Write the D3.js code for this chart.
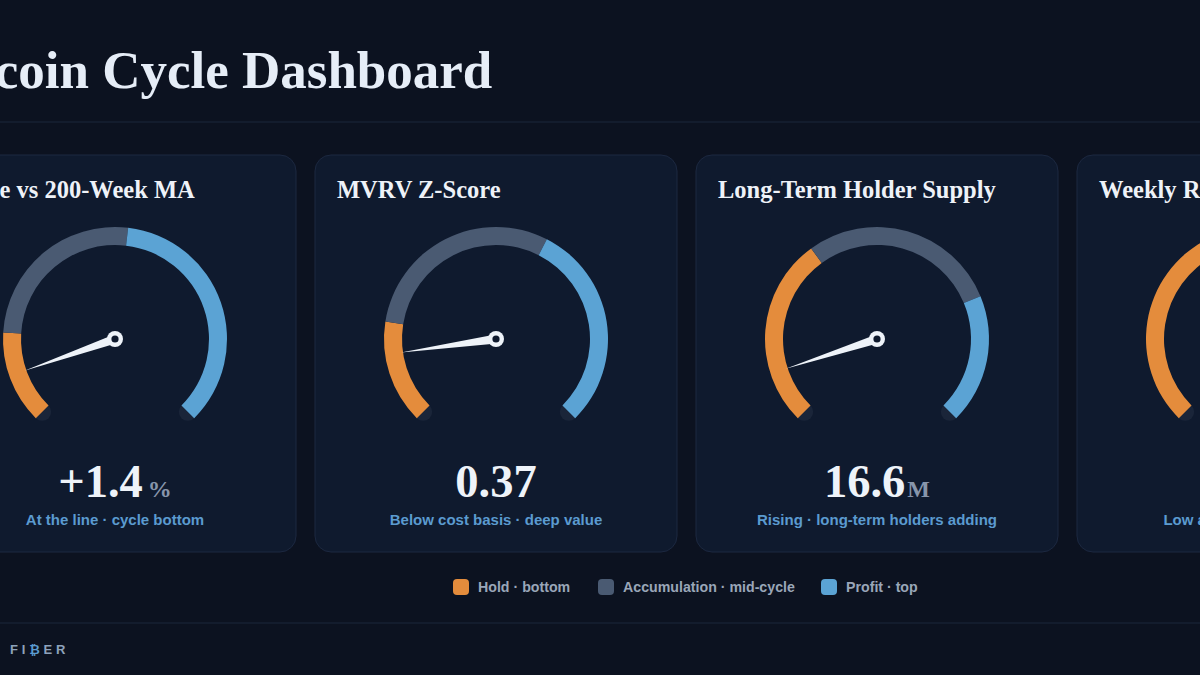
<!DOCTYPE html>
<html>
<head>
<meta charset="utf-8">
<script src="https://cdn.jsdelivr.net/npm/d3@7"></script>
<style>
  html, body { margin: 0; padding: 0; background: #0c1220; overflow: hidden; }
  svg { display: block; }
</style>
</head>
<body>
<div id="dashboard"></div>
<script>
// gauge data
const cardTitles = ['Price vs 200-Week MA', 'MVRV Z-Score', 'Long-Term Holder Supply', 'Weekly RSI'];
const values = [1.4, 0.37, 16.6, 38];
const valueLabels = ['+1.4', '0.37', '16.6', '38'];
const units = ['%', '', 'M', ''];
const notes = ['At the line \u00b7 cycle bottom', 'Below cost basis \u00b7 deep value',
  'Rising \u00b7 long-term holders adding', 'Low and basing \u00b7 oversold'];
const gaugeMin = [-10, -1, 16, 0];
const gaugeMax = [110, 9, 22, 100];
const holdUpTo = [11.5, 1, 18.2, 40];
const profitFrom = [53, 5, 20.5, 70];
const zoneNames = ['Hold \u00b7 bottom', 'Accumulation \u00b7 mid-cycle', 'Profit \u00b7 top'];

const zoneColors = ['#e48c3c', '#4a5a72', '#5ba3d4'];
const width = 1200, height = 675;
const serif = '"Liberation Serif", "DejaVu Serif", serif';
const sans = '"Liberation Sans", Arial, sans-serif';

const svg = d3.select('#dashboard').append('svg')
  .attr('width', width)
  .attr('height', height);

svg.append('rect')
  .attr('width', width).attr('height', height)
  .attr('fill', '#0c1220');

// header
svg.append('text')
  .attr('x', -73)
  .attr('y', 88)
  .attr('font-family', serif)
  .attr('font-weight', 'bold')
  .attr('font-size', 53)
  .attr('fill', '#e6edf7')
  .text('Bitcoin Cycle Dashboard');

svg.append('line')
  .attr('x1', 0).attr('x2', width)
  .attr('y1', 122).attr('y2', 122)
  .attr('stroke', '#1b273a');

// cards
const cardW = 362, cardH = 397, cardTop = 155, cardGap = 19, firstLeft = -66;
const x = d3.scaleBand()
  .domain(cardTitles)
  .range([firstLeft, firstLeft + cardTitles.length * cardW + (cardTitles.length - 1) * cardGap])
  .paddingInner(cardGap / (cardW + cardGap));

const angle = Math.PI * 0.75;
const innerR = 94, outerR = 112, midR = (innerR + outerR) / 2;

const cards = svg.selectAll('g.card')
  .data(cardTitles)
  .enter()
  .append('g')
  .classed('card', true)
  .attr('transform', d => 'translate(' + [x(d), cardTop] + ')');

cards.append('rect')
  .attr('width', x.bandwidth())
  .attr('height', cardH)
  .attr('rx', 16)
  .attr('fill', '#0f1a2e')
  .attr('stroke', '#1c2840')
  .attr('stroke-width', 1);

cards.append('text')
  .attr('x', 22)
  .attr('y', 43)
  .attr('font-family', serif)
  .attr('font-weight', 'bold')
  .attr('font-size', 24.5)
  .attr('fill', '#eef2f8')
  .text(d => d);

cards.each(function(title, i) {
  const card = d3.select(this);
  const cx = x.bandwidth() / 2, cy = 184;
  const scale = d3.scaleLinear()
    .domain([gaugeMin[i], gaugeMax[i]])
    .range([-angle, angle])
    .clamp(true);

  const g = card.append('g').attr('transform', 'translate(' + [cx, cy] + ')');

  // dark caps at both ends of the track
  g.selectAll('circle.cap')
    .data([gaugeMin[i], gaugeMax[i]])
    .enter()
    .append('circle')
    .classed('cap', true)
    .attr('cx', d => d3.pointRadial(scale(d), midR)[0])
    .attr('cy', d => d3.pointRadial(scale(d), midR)[1])
    .attr('r', (outerR - innerR) / 2)
    .attr('fill', '#1a2539');

  const zones = [
    [gaugeMin[i], holdUpTo[i]],
    [holdUpTo[i], profitFrom[i]],
    [profitFrom[i], gaugeMax[i]]
  ];
  const arc = d3.arc()
    .innerRadius(innerR)
    .outerRadius(outerR)
    .startAngle(d => scale(d[0]))
    .endAngle(d => scale(d[1]));

  g.selectAll('path.zone')
    .data(zones)
    .enter()
    .append('path')
    .classed('zone', true)
    .attr('d', arc)
    .attr('fill', (d, k) => zoneColors[k]);

  // needle
  const deg = scale(values[i]) * 180 / Math.PI;
  g.append('path')
    .attr('d', 'M-4.5,0 L0,-96 L4.5,0 Z')
    .attr('fill', '#eef3f9')
    .attr('transform', 'rotate(' + deg + ')');
  g.append('circle').attr('r', 8).attr('fill', '#eef3f9');
  g.append('circle').attr('r', 3.6).attr('fill', '#0f1a2e');

  // value
  const val = card.append('text')
    .attr('x', cx)
    .attr('y', 342)
    .attr('text-anchor', 'middle')
    .attr('font-family', serif)
    .attr('font-weight', 'bold');
  val.append('tspan')
    .attr('font-size', 46.5)
    .attr('fill', '#eef3f9')
    .text(valueLabels[i]);
  if (units[i]) {
    val.append('tspan')
      .attr('dx', units[i] === '%' ? 5 : 2)
      .attr('font-size', 24)
      .attr('fill', '#8795ab')
      .text(units[i]);
  }

  card.append('text')
    .attr('x', cx)
    .attr('y', 370)
    .attr('text-anchor', 'middle')
    .attr('font-family', sans)
    .attr('font-weight', 'bold')
    .attr('font-size', 15)
    .attr('fill', '#5b9bd0')
    .text(notes[i]);
});

// legend
const legendX = [453, 598, 821];
const legend = svg.selectAll('g.legend')
  .data(zoneNames)
  .enter()
  .append('g')
  .classed('legend', true)
  .attr('transform', (d, k) => 'translate(' + [legendX[k], 579] + ')');

legend.append('rect')
  .attr('width', 16).attr('height', 16)
  .attr('rx', 4)
  .attr('fill', (d, k) => zoneColors[k]);

legend.append('text')
  .attr('x', 25)
  .attr('y', 13)
  .attr('font-family', sans)
  .attr('font-weight', 'bold')
  .attr('font-size', 14.2)
  .attr('fill', '#9aa6b8')
  .text(d => d);

// footer
svg.append('line')
  .attr('x1', 0).attr('x2', width)
  .attr('y1', 623).attr('y2', 623)
  .attr('stroke', '#1b273a');

const logo = svg.append('text')
  .attr('x', 10)
  .attr('y', 654)
  .attr('font-family', sans)
  .attr('font-weight', 'bold')
  .attr('font-size', 13)
  .attr('letter-spacing', 3.8)
  .attr('fill', '#8ea2bb');
logo.append('tspan').text('FI');
logo.append('tspan').attr('fill', '#5b9bd0').text('\u20bf');
logo.append('tspan').text('ER');
</script>
</body>
</html>
